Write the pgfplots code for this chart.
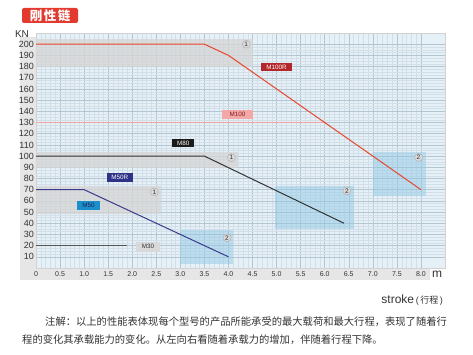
\documentclass[border=0pt]{standalone}
\usepackage{pgfplots}
\pgfplotsset{compat=1.18}
\usepackage{fontspec}
\setmainfont{Liberation Sans}
\newfontfamily\cjk{Noto Sans CJK SC}
\definecolor{panelgray}{HTML}{E6E6E6}
\definecolor{plotbg}{HTML}{E6F0F7}
\definecolor{majgrid}{HTML}{B4C6D1}
\definecolor{mingrid}{HTML}{D2DFE8}
\definecolor{redline}{HTML}{E8472E}
\definecolor{pinkline}{HTML}{F4A3A3}
\definecolor{darkline}{HTML}{333333}
\definecolor{navyline}{HTML}{3B3B8C}
\definecolor{grayline}{HTML}{555555}
\definecolor{boxM100R}{HTML}{B5262A}
\definecolor{boxM100}{HTML}{F4A7A7}
\definecolor{boxM80}{HTML}{1A1A1A}
\definecolor{boxM50R}{HTML}{2E3388}
\definecolor{boxM50}{HTML}{1B8FCB}
\definecolor{boxM30}{HTML}{D9D9D9}
\definecolor{bandgray}{HTML}{D5D5D5}
\definecolor{bandblue}{HTML}{8CC8E6}
\definecolor{titlered}{HTML}{E23A2E}
\definecolor{txt}{HTML}{333333}
\begin{document}
\begin{tikzpicture}[x=1pt,y=1pt]
\fill[white] (0,0) rectangle (473,-355);
\fill[panelgray] (20,-37) rectangle (430,-280);
\begin{axis}[
  at={(36pt,-268pt)}, anchor=south west,
  scale only axis, width=409pt, height=235pt,
  xmin=0, xmax=8.5, ymin=0, ymax=210,
  axis background/.style={fill=plotbg},
  axis line style={draw=gray!35},
  xtick={0,0.5,1,1.5,2,2.5,3,3.5,4,4.5,5,5.5,6,6.5,7,7.5,8},
  xticklabels={0,0.5,1.0,1.5,2.0,2.5,3.0,3.5,4.0,4.5,5.0,5.5,6.0,6.5,7.0,7.5,8.0},
  ytick={10,20,...,200},
  minor x tick num=4, minor y tick num=3,
  grid=both,
  major grid style={draw=majgrid, line width=0.5pt},
  minor grid style={draw=mingrid, line width=0.35pt},
  major tick length=0pt, minor tick length=0pt,
  /pgf/number format/assume math mode=true,
  xticklabel style={font=\fontsize{7}{8}\selectfont, text=txt, inner sep=0pt, anchor=north, yshift=-3.5pt},
  yticklabel style={font=\fontsize{9}{10}\selectfont, text=txt, inner sep=0pt, anchor=east, xshift=-2pt},
  clip=false,
]
% shaded regions
\fill[bandgray, opacity=0.75] (axis cs:0,180) rectangle (axis cs:4.5,205);
\fill[bandgray, opacity=0.75] (axis cs:0,89.5) rectangle (axis cs:4.2,104);
\fill[bandgray, opacity=0.75] (axis cs:0,48.5) rectangle (axis cs:2.6,73.5);
\fill[bandblue, opacity=0.45] (axis cs:3.0,3.5) rectangle (axis cs:4.1,34);
\fill[bandblue, opacity=0.45] (axis cs:4.97,35) rectangle (axis cs:6.6,73.5);
\fill[bandblue, opacity=0.45] (axis cs:7.0,64.5) rectangle (axis cs:8.1,104);
% lines
\addplot[pinkline, line width=0.9pt] coordinates {(0,130) (6.0,130)};
\addplot[redline, line width=1pt] coordinates {(0,200) (3.5,200) (4.0,190) (8.0,70)};
\addplot[darkline, line width=1pt] coordinates {(0,100) (3.5,100) (6.4,40)};
\addplot[navyline, line width=1pt] coordinates {(0,70) (1.0,70) (4.0,10)};
\addplot[grayline, line width=1.3pt] coordinates {(0,20) (1.9,20)};
% circled numbers
\tikzset{cnum/.style={circle, fill=gray!30, draw=gray!65, line width=0.4pt, inner sep=0pt, minimum size=8pt, font=\fontsize{6.5}{7}\selectfont, text=gray!40!black}}
\node[cnum] at (axis cs:4.37,200) {1};
\node[cnum] at (axis cs:4.06,98.6) {1};
\node[cnum] at (axis cs:2.46,68) {1};
\node[cnum] at (axis cs:3.97,27) {2};
\node[cnum] at (axis cs:6.46,69) {2};
\node[cnum] at (axis cs:7.95,98.8) {2};
% series labels
\tikzset{lbl/.style={inner sep=0pt, minimum height=8.5pt, font=\fontsize{6.3}{7}\selectfont}}
\node[lbl, fill=boxM100R, text=white, minimum width=30.5pt] at (axis cs:5.0,179.6) {M100R};
\node[lbl, fill=boxM100, text=boxM100R!70!black, minimum width=31pt, minimum height=9.3pt] at (axis cs:4.19,137) {M100};
\node[lbl, fill=boxM80, text=white, minimum width=22pt] at (axis cs:3.06,111.7) {M80};
\node[lbl, fill=boxM50R, text=white, minimum width=25.6pt] at (axis cs:1.74,80.9) {M50R};
\node[lbl, fill=boxM50, text=boxM50R!60!black, minimum width=23.3pt, minimum height=9pt] at (axis cs:1.09,55.9) {M50};
\node[lbl, fill=boxM30, text=txt, minimum width=24.7pt, minimum height=10pt] at (axis cs:2.33,19) {M30};
\end{axis}
% title
\node[fill=titlered, rounded corners=2pt, minimum width=56pt, minimum height=15pt, inner sep=0pt, text=white, font=\cjk\bfseries\fontsize{12.5}{13}\selectfont] at (50,-15.5) {刚\hspace{1.5pt}性\hspace{1.5pt}链};
\node[font=\fontsize{10}{11}\selectfont, text=txt, inner sep=0pt] at (22,-34) {KN};
\node[font=\fontsize{12}{13}\selectfont, text=txt, inner sep=0pt] at (437,-274) {m};
\node[anchor=base east, inner sep=0pt, text=txt] at (443,-303) {{\fontsize{12}{14}\selectfont stroke}\,{\fontsize{9}{10}\selectfont (\,{\cjk 行程}\,)}};
\node[anchor=west, inner sep=0pt, text=txt, font=\cjk\fontsize{10.3}{12}\selectfont] at (45,-322) {注解：以上的性能表体现每个型号的产品所能承受的最大载荷和最大行程，表现了随着行};
\node[anchor=west, inner sep=0pt, text=txt, font=\cjk\fontsize{10.3}{12}\selectfont] at (22,-340) {程的变化其承载能力的变化。从左向右看随着承载力的增加，伴随着行程下降。};
\end{tikzpicture}
\end{document}
